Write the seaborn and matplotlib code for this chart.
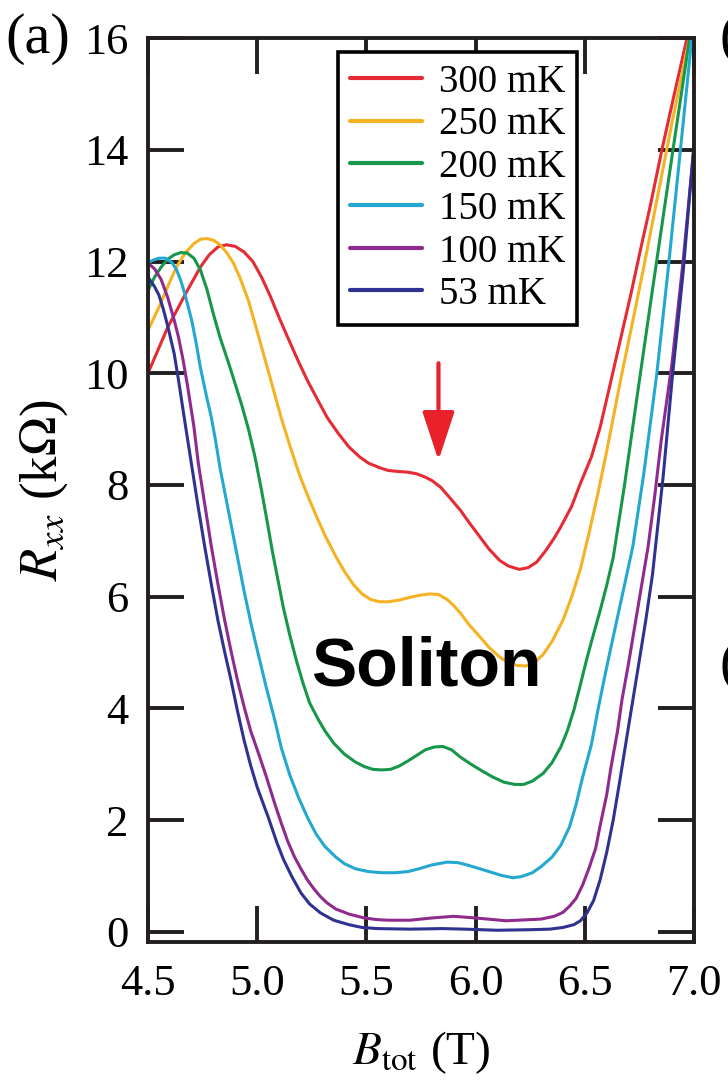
import numpy as np
import pandas as pd
import matplotlib
matplotlib.use('Agg')
import matplotlib.pyplot as plt
from matplotlib.ticker import FormatStrFormatter
import seaborn as sns

# ---- data: (B_tot [T], R_xx [kOhm]) ----
pts_300 = [(4.50, 10.0), (4.59, 10.82), (4.68, 11.48), (4.74, 11.9), (4.78, 12.12), (4.82, 12.26),
           (4.86, 12.3), (4.90, 12.27), (4.94, 12.17), (4.98, 12.0), (5.02, 11.72), (5.06, 11.38),
           (5.10, 11.0), (5.14, 10.64), (5.19, 10.2), (5.23, 9.87), (5.28, 9.5), (5.32, 9.21),
           (5.37, 8.93), (5.42, 8.68), (5.47, 8.5), (5.51, 8.39), (5.56, 8.31), (5.60, 8.26),
           (5.65, 8.24), (5.69, 8.23), (5.73, 8.2), (5.77, 8.14), (5.80, 8.08), (5.84, 7.96),
           (5.88, 7.78), (5.93, 7.55), (5.97, 7.33), (6.02, 7.07), (6.06, 6.86), (6.11, 6.65),
           (6.15, 6.55), (6.20, 6.49), (6.24, 6.52), (6.28, 6.62), (6.32, 6.82), (6.36, 7.05),
           (6.39, 7.25), (6.44, 7.62), (6.48, 8.03), (6.53, 8.5), (6.57, 9.03), (6.61, 9.7),
           (6.66, 10.55), (6.71, 11.4), (6.76, 12.3), (6.80, 13.0), (6.853, 14.0), (6.91, 15.0),
           (6.968, 16.0), (7.00, 16.6)]

pts_250 = [(4.50, 10.77), (4.55, 11.18), (4.59, 11.55), (4.63, 11.9), (4.67, 12.15), (4.71, 12.32),
           (4.74, 12.4), (4.77, 12.41), (4.80, 12.38), (4.83, 12.3), (4.86, 12.16), (4.89, 11.98),
           (4.92, 11.72), (4.96, 11.3), (5.00, 10.75), (5.05, 10.05), (5.11, 9.2), (5.15, 8.7),
           (5.19, 8.22), (5.23, 7.82), (5.27, 7.45), (5.31, 7.1), (5.36, 6.72), (5.40, 6.45),
           (5.44, 6.22), (5.48, 6.05), (5.52, 5.95), (5.56, 5.91), (5.60, 5.91), (5.65, 5.94),
           (5.70, 5.99), (5.75, 6.03), (5.79, 6.05), (5.83, 6.04), (5.87, 5.95), (5.90, 5.84),
           (5.93, 5.71), (5.97, 5.5), (6.02, 5.28), (6.06, 5.1), (6.11, 4.92), (6.15, 4.82),
           (6.19, 4.77), (6.23, 4.76), (6.27, 4.82), (6.31, 4.97), (6.35, 5.2), (6.40, 5.58),
           (6.44, 6.0), (6.48, 6.5), (6.52, 7.15), (6.56, 7.85), (6.60, 8.6), (6.63, 9.2),
           (6.67, 10.0), (6.71, 10.75), (6.77, 11.9), (6.83, 13.1), (6.90, 14.5), (6.98, 16.0),
           (7.00, 16.4)]

pts_200 = [(4.50, 11.48), (4.53, 11.72), (4.56, 11.9), (4.59, 12.04), (4.62, 12.12), (4.65, 12.16),
           (4.68, 12.15), (4.71, 12.06), (4.74, 11.85), (4.77, 11.5), (4.80, 11.05), (4.83, 10.64),
           (4.87, 10.17), (4.90, 9.8), (4.93, 9.42), (4.96, 9.0), (4.99, 8.5), (5.02, 7.9),
           (5.05, 7.25), (5.07, 6.8), (5.10, 6.2), (5.12, 5.8), (5.15, 5.3), (5.18, 4.85),
           (5.21, 4.45), (5.24, 4.1), (5.28, 3.8), (5.31, 3.6), (5.35, 3.38), (5.40, 3.18),
           (5.45, 3.04), (5.49, 2.96), (5.53, 2.91), (5.57, 2.9), (5.61, 2.91), (5.65, 2.97),
           (5.69, 3.06), (5.73, 3.16), (5.77, 3.26), (5.81, 3.31), (5.85, 3.32), (5.89, 3.26),
           (5.93, 3.13), (5.98, 3.0), (6.03, 2.88), (6.08, 2.77), (6.13, 2.68), (6.18, 2.64),
           (6.22, 2.64), (6.26, 2.7), (6.31, 2.84), (6.35, 3.03), (6.39, 3.31), (6.42, 3.6),
           (6.45, 3.97), (6.48, 4.43), (6.51, 4.9), (6.54, 5.33), (6.57, 5.75), (6.60, 6.2),
           (6.63, 6.7), (6.68, 7.95), (6.74, 9.6), (6.81, 11.5), (6.87, 13.1), (6.90, 13.9),
           (6.98, 16.0), (7.00, 16.5)]

pts_150 = [(4.50, 11.97), (4.52, 12.02), (4.55, 12.06), (4.58, 12.06), (4.61, 11.98), (4.63, 11.86),
           (4.65, 11.66), (4.67, 11.4), (4.70, 10.95), (4.72, 10.55), (4.74, 10.1), (4.77, 9.55),
           (4.79, 9.21), (4.81, 8.78), (4.83, 8.3), (4.86, 7.7), (4.88, 7.3), (4.91, 6.7),
           (4.94, 6.1), (4.97, 5.55), (5.00, 5.05), (5.04, 4.4), (5.08, 3.8), (5.11, 3.3),
           (5.15, 2.8), (5.19, 2.4), (5.23, 2.05), (5.27, 1.75), (5.31, 1.53), (5.36, 1.34),
           (5.40, 1.22), (5.45, 1.13), (5.51, 1.08), (5.57, 1.06), (5.63, 1.06), (5.69, 1.08),
           (5.74, 1.13), (5.80, 1.2), (5.87, 1.25), (5.92, 1.24), (5.96, 1.2), (6.02, 1.13),
           (6.07, 1.07), (6.12, 1.01), (6.17, 0.97), (6.21, 0.99), (6.26, 1.06), (6.30, 1.17),
           (6.35, 1.34), (6.39, 1.55), (6.43, 1.88), (6.46, 2.28), (6.49, 2.77), (6.53, 3.35),
           (6.56, 3.97), (6.59, 4.55), (6.62, 5.1), (6.67, 6.0), (6.72, 6.9), (6.77, 8.2),
           (6.83, 10.0), (6.88, 11.8), (6.93, 13.7), (6.99, 16.0), (7.00, 16.4)]

pts_100 = [(4.50, 11.97), (4.53, 11.87), (4.56, 11.68), (4.59, 11.36), (4.62, 10.95), (4.64, 10.64),
           (4.66, 10.25), (4.68, 9.8), (4.71, 9.05), (4.73, 8.4), (4.76, 7.65), (4.79, 6.9),
           (4.82, 6.23), (4.85, 5.6), (4.88, 5.03), (4.91, 4.5), (4.94, 4.03), (4.97, 3.6),
           (5.01, 3.15), (5.04, 2.8), (5.08, 2.3), (5.11, 1.95), (5.14, 1.62), (5.17, 1.35),
           (5.20, 1.13), (5.23, 0.93), (5.26, 0.77), (5.29, 0.63), (5.32, 0.52), (5.36, 0.41),
           (5.42, 0.32), (5.49, 0.25), (5.55, 0.22), (5.60, 0.21), (5.70, 0.21), (5.80, 0.25),
           (5.90, 0.28), (6.00, 0.25), (6.14, 0.20), (6.30, 0.23), (6.36, 0.28), (6.40, 0.35),
           (6.43, 0.46), (6.46, 0.6), (6.49, 0.84), (6.52, 1.15), (6.55, 1.5), (6.57, 1.9),
           (6.60, 2.45), (6.62, 2.95), (6.65, 3.6), (6.67, 4.15), (6.70, 4.8), (6.73, 5.5),
           (6.76, 6.2), (6.79, 6.9), (6.82, 7.8), (6.85, 8.8), (6.90, 10.2), (6.95, 12.0),
           (7.00, 14.05)]

pts_53 = [(4.50, 11.72), (4.53, 11.55), (4.55, 11.4), (4.57, 11.15), (4.59, 10.85), (4.62, 10.35),
          (4.64, 9.87), (4.67, 9.1), (4.70, 8.35), (4.73, 7.6), (4.76, 6.89), (4.79, 6.22),
          (4.82, 5.58), (4.85, 5.03), (4.88, 4.51), (4.91, 3.95), (4.94, 3.43), (4.97, 2.98),
          (5.00, 2.59), (5.03, 2.27), (5.05, 2.06), (5.09, 1.6), (5.12, 1.3), (5.16, 0.98),
          (5.20, 0.70), (5.24, 0.5), (5.29, 0.34), (5.35, 0.21), (5.42, 0.13), (5.48, 0.08),
          (5.55, 0.06), (5.70, 0.05), (5.85, 0.06), (5.95, 0.05), (6.10, 0.03), (6.25, 0.04),
          (6.34, 0.05), (6.40, 0.08), (6.45, 0.13), (6.48, 0.2), (6.51, 0.34), (6.54, 0.56),
          (6.57, 0.93), (6.60, 1.42), (6.63, 2.0), (6.66, 2.7), (6.69, 3.43), (6.72, 4.15),
          (6.75, 4.87), (6.78, 5.6), (6.81, 6.4), (6.86, 8.2), (6.90, 9.9), (6.95, 11.8),
          (7.00, 14.1)]

labels = ['300 mK', '250 mK', '200 mK', '150 mK', '100 mK', '53 mK']
colors = ['#e52b34', '#f5b222', '#17974a', '#25a8cf', '#8f2b8d', '#2f3291']
x_ticks = [4.5, 5.0, 5.5, 6.0, 6.5, 7.0]
y_ticks = [0, 2, 4, 6, 8, 10, 12, 14, 16]

series = [pts_300, pts_250, pts_200, pts_150, pts_100, pts_53]
frames = [pd.DataFrame(pts, columns=['B', 'R']).assign(T=lab) for lab, pts in zip(labels, series)]
df = pd.concat(frames, ignore_index=True)

sns.set_style('ticks')
plt.rcParams['font.family'] = ['Liberation Serif', 'DejaVu Serif']
plt.rcParams['mathtext.fontset'] = 'stix'
plt.rcParams['text.color'] = 'black'
plt.rcParams['axes.labelcolor'] = 'black'

fig = plt.figure(figsize=(7.28, 10.84), dpi=100)
ax = fig.add_axes([0.2033, 0.1310, 0.75, 0.8339])

sns.lineplot(data=df, x='B', y='R', hue='T', hue_order=labels,
             palette=dict(zip(labels, colors)), estimator=None, sort=False,
             linewidth=2.2, ax=ax, legend=True)

ax.set_xlim(4.5, 7.0)
ax.set_ylim(-0.18, 16)
ax.set_xticks(x_ticks)
ax.set_yticks(y_ticks)
ax.xaxis.set_major_formatter(FormatStrFormatter('%.1f'))

spine_c = '#231f20'
for s in ax.spines.values():
    s.set_linewidth(2.8)
    s.set_color(spine_c)
ax.tick_params(direction='in', length=26, width=2.8, color=spine_c,
               top=True, right=True, labelsize=32, labelcolor='black')
ax.tick_params(axis='x', pad=16)
ax.tick_params(axis='y', pad=14)

ax.set_xlabel(r'$B_{\mathrm{tot}}$ (T)', fontsize=34, labelpad=18)
ax.set_ylabel(r'$R_{xx}$ (k$\Omega$)', fontsize=38, labelpad=10)

handles, labs = ax.get_legend_handles_labels()
leg = ax.legend(handles, labs, loc='upper left', bbox_to_anchor=(0.348, 0.9845),
                frameon=True, fancybox=False, edgecolor='black', framealpha=1,
                fontsize=28, handlelength=1.85, handletextpad=0.45,
                labelspacing=0.14, borderpad=0.3, borderaxespad=0)
leg.get_frame().set_linewidth(2.6)
for ln in leg.get_lines():
    ln.set_linewidth(3)

ax.text(5.773, 4.42, 'Soliton', fontsize=49, fontweight='bold', color='black',
        family=['Liberation Sans', 'DejaVu Sans'], ha='center', va='baseline')

ax.annotate('', xy=(5.83, 8.44), xytext=(5.83, 10.18),
            arrowprops=dict(arrowstyle='-|>,head_length=1.0,head_width=0.33',
                            color='#e8212b', lw=3, mutation_scale=30,
                            shrinkA=0, shrinkB=0))

fig.text(5 / 728, 1 - 53 / 1084, '(a)', fontsize=42, ha='left', va='baseline')
fig.text(720 / 728, 1 - 53 / 1084, '(b)', fontsize=40, ha='left', va='baseline')
fig.text(720 / 728, 1 - 680 / 1084, '(c)', fontsize=40, ha='left', va='baseline')

fig.savefig('out.png', dpi=100)
